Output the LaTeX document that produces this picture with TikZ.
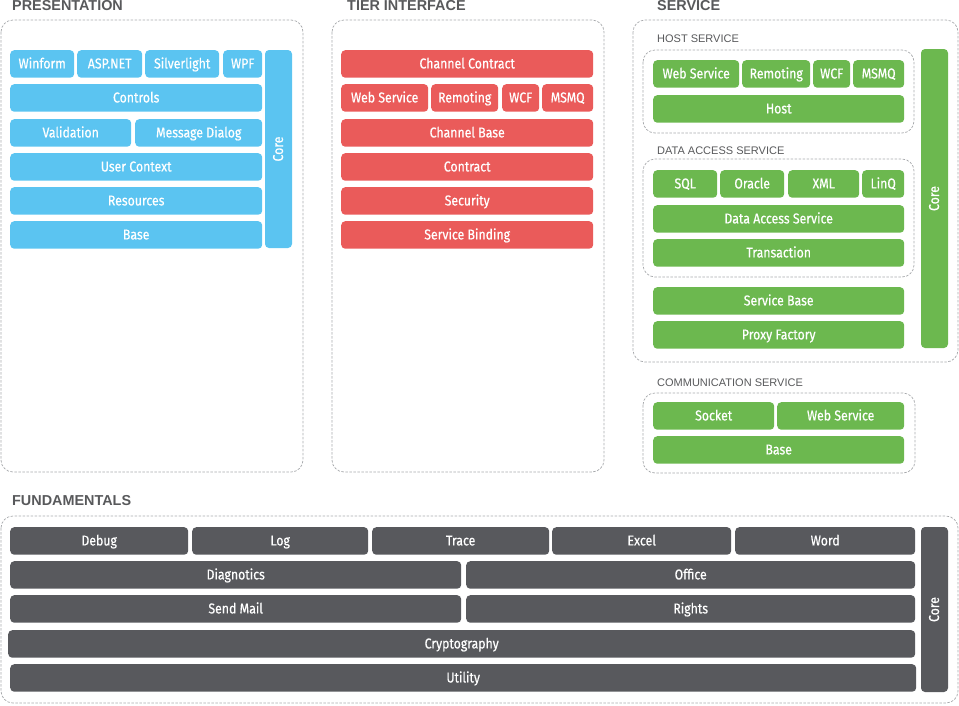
\documentclass[tikz,border=0pt]{standalone}
\usepackage{fontspec}
\setmainfont{Liberation Sans}
\newfontfamily\blkfont[FakeStretch=0.86,FakeBold=0.5]{Fira Sans}
\usepackage{tikz}
\usetikzlibrary{positioning}
\definecolor{presblue}{HTML}{5BC4F1}
\definecolor{tierred}{HTML}{EA5B5A}
\definecolor{servgreen}{HTML}{6CB84F}
\definecolor{fundgrey}{HTML}{58595D}
\definecolor{headgrey}{HTML}{58595B}
\definecolor{dashgrey}{HTML}{A7A9AC}

\begin{document}
\begin{tikzpicture}[x=1pt,y=-1pt]
	\tikzstyle{blk}=[rounded corners=4pt, inner sep=0pt, anchor=north west, minimum height=27.5pt, text=white, text height=12pt, text depth=3pt, font=\blkfont\fontsize{14.3}{16}\selectfont]
	\tikzstyle{wd}=[minimum width=#1pt]
	\tikzstyle{pres}=[blk, fill=presblue]
	\tikzstyle{tier}=[blk, fill=tierred]
	\tikzstyle{serv}=[blk, fill=servgreen]
	\tikzstyle{fund}=[blk, fill=fundgrey]
	\tikzstyle{core}=[anchor=center, rotate=90, minimum height=27pt]
	\tikzstyle{grp}=[draw=dashgrey, dash pattern=on 2.5pt off 1.5pt, line width=0.7pt, rounded corners=12pt]
	\tikzstyle{head}=[anchor=west, inner sep=0pt, text=headgrey, font=\bfseries\fontsize{14.4}{16}\selectfont]
	\tikzstyle{subhead}=[anchor=west, inner sep=0pt, text=headgrey, font=\fontsize{11}{13}\selectfont]
	\useasboundingbox (0,0) rectangle (959,705);

	% presentation
	\node[head] (presT) at (12,6) {PRESENTATION};
	\draw[grp] (1,20) rectangle (303,472);
	\node[pres, wd=64] (pWin) at (10,50) {Winform};
	\node[pres, wd=65] (pAsp) at (77,50) {ASP.NET};
	\node[pres, wd=74] (pSil) at (145,50) {Silverlight};
	\node[pres, wd=39] (pWpf) at (223,50) {WPF};
	\node[pres, wd=252] (pCtl) at (10,84) {Controls};
	\node[pres, wd=121] (pVal) at (10,119) {Validation};
	\node[pres, wd=127] (pMsg) at (135,119) {Message Dialog};
	\node[pres, wd=252] (pUsr) at (10,153) {User Context};
	\node[pres, wd=252] (pRes) at (10,187) {Resources};
	\node[pres, wd=252] (pBase) at (10,221) {Base};
	\node[pres, core, wd=198] (pCore) at (278.5,149) {Core};

	% tier interface
	\node[head] (tierT) at (347,6) {TIER INTERFACE};
	\draw[grp] (332,20) rectangle (604,472);
	\node[tier, wd=252] (tChC) at (341,50) {Channel Contract};
	\node[tier, wd=87] (tWeb) at (341,84) {Web Service};
	\node[tier, wd=67] (tRem) at (431,84) {Remoting};
	\node[tier, wd=37] (tWcf) at (502,84) {WCF};
	\node[tier, wd=51] (tMsmq) at (542,84) {MSMQ};
	\node[tier, wd=252] (tChB) at (341,119) {Channel Base};
	\node[tier, wd=252] (tCon) at (341,153) {Contract};
	\node[tier, wd=252] (tSec) at (341,187) {Security};
	\node[tier, wd=252] (tBind) at (341,221) {Service Binding};

	% service
	\node[head] (servT) at (657,6) {SERVICE};
	\draw[grp] (633,20) rectangle (958,362);
	\node[subhead] (hostT) at (657,39) {HOST SERVICE};
	\draw[grp] (643,50) rectangle (914,133);
	\node[serv, wd=86] (hWeb) at (653,60) {Web Service};
	\node[serv, wd=68] (hRem) at (742,60) {Remoting};
	\node[serv, wd=37] (hWcf) at (813,60) {WCF};
	\node[serv, wd=51] (hMsmq) at (853,60) {MSMQ};
	\node[serv, wd=251] (hHost) at (653,95) {Host};
	\node[subhead] (daT) at (657,151) {DATA ACCESS SERVICE};
	\draw[grp] (643,159) rectangle (914,277);
	\node[serv, wd=64] (dSql) at (653,170) {SQL};
	\node[serv, wd=64] (dOra) at (720,170) {Oracle};
	\node[serv, wd=71] (dXml) at (788,170) {XML};
	\node[serv, wd=42] (dLinq) at (862,170) {LinQ};
	\node[serv, wd=251] (dDas) at (653,205) {Data Access Service};
	\node[serv, wd=251] (dTra) at (653,239) {Transaction};
	\node[serv, wd=251] (sBase) at (653,287) {Service Base};
	\node[serv, wd=251] (sProxy) at (653,321) {Proxy Factory};
	\node[serv, core, wd=299] (sCore) at (934.5,198.5) {Core};

	% communication
	\node[subhead] (comT) at (657,383) {COMMUNICATION SERVICE};
	\draw[grp] (643,393) rectangle (915,473);
	\node[serv, wd=121] (cSock) at (653,402) {Socket};
	\node[serv, wd=127] (cWeb) at (777,402) {Web Service};
	\node[serv, wd=251] (cBase) at (653,436) {Base};

	% fundamentals
	\node[head] (fundT) at (12,501) {FUNDAMENTALS};
	\draw[grp] (1,516) rectangle (958,703);
	\node[fund, wd=178] (fDbg) at (10,527) {Debug};
	\node[fund, wd=176] (fLog) at (192,527) {Log};
	\node[fund, wd=177] (fTrc) at (372,527) {Trace};
	\node[fund, wd=179] (fXls) at (552,527) {Excel};
	\node[fund, wd=180] (fDoc) at (735,527) {Word};
	\node[fund, wd=451] (fDiag) at (10,561) {Diagnotics};
	\node[fund, wd=449] (fOff) at (466,561) {Office};
	\node[fund, wd=451] (fMail) at (10,595) {Send Mail};
	\node[fund, wd=449] (fRig) at (466,595) {Rights};
	\node[fund, wd=907] (fCry) at (8,630) {Cryptography};
	\node[fund, wd=906] (fUtil) at (10,664) {Utility};
	\node[fund, core, wd=165] (fCore) at (934.5,609.5) {Core};
\end{tikzpicture}
\end{document}
